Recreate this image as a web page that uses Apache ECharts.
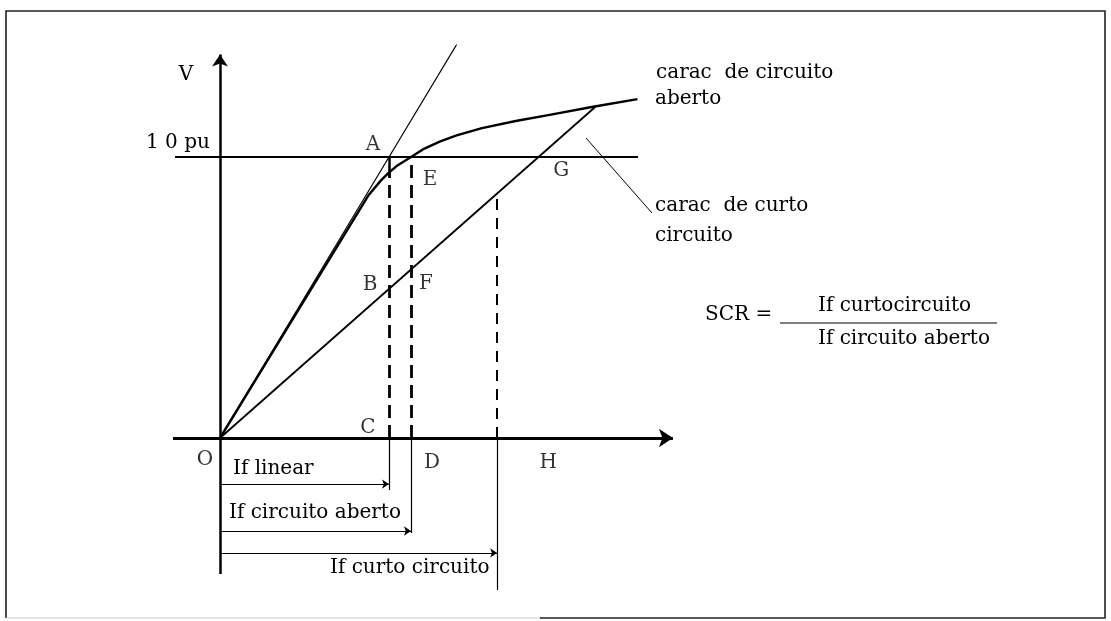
<!DOCTYPE html>
<html>
<head>
<meta charset="utf-8">
<script src="https://cdn.jsdelivr.net/npm/echarts@6/dist/echarts.min.js"></script>
<style>
html, body { margin: 0; padding: 0; background: #fff; }
#main { width: 1111px; height: 621px; }
</style>
</head>
<body>
<div id="main"></div>
<script>
// V em pu, If em unidades de "If linear"
var occIf = [0, 0.88, 0.95, 1.00, 1.05, 1.13, 1.20, 1.30, 1.40, 1.55, 1.75, 1.95, 2.20, 2.47];
var occV = [0, 0.865, 0.915, 0.945, 0.97, 1.00, 1.027, 1.055, 1.077, 1.103, 1.128, 1.15, 1.178, 1.206];
var airGapIf = [0, 1.40];
var airGapV = [0, 1.40];
var sccIf = [0, 2.22];
var sccV = [0, 1.178];

var vRated = 1.0;
var ifLinear = 1.0;
var ifOpen = 1.13;
var ifShort = 1.64;
var vOccAtLinear = 0.945;
var vSccAtShort = 0.871;

var pointNames = ['O', 'A', 'B', 'C', 'D', 'E', 'F', 'G', 'H'];
var pointIf = [0, 1.0, 1.0, 1.0, 1.13, 1.13, 1.13, 1.883, 1.883];
var pointV = [0, 1.0, 0.531, 0, 0, 1.0, 0.6, 1.0, 0];

// ---- layout (pixels) ----
var OX = 220, OY = 438, SX = 169, SY = 281;
var W = 1111, H = 621;
var FONT = '"DejaVu Serif", "Liberation Serif", serif';
var labelOffsets = {
    O: [-15, 22], A: [-16, -12], B: [-19, -4], C: [-21, -10], D: [21, 25],
    E: [19, 23], F: [15, 14], G: [23, 14], H: [10, 25]
};
// extents of the drawing lines, in chart units
var xAxisFrom = -0.278, xAxisTo = 2.68;
var yAxisFrom = -0.484, yAxisTo = 1.365;
var ratedFrom = -0.266, ratedTo = 2.473;
var depthLinear = -0.185, depthOpen = -0.338, depthShort = -0.541;
var rowLinear = -0.164, rowOpen = -0.331, rowShort = -0.409;

function zip(a, b) {
    return a.map(function (v, i) { return [v, b[i]]; });
}

var myChart = echarts.init(document.getElementById('main'));

var plainLines = [
    {coords: [[xAxisFrom, 0], [xAxisTo, 0]], lineStyle: {width: 3}, symbol: ['none', 'arrow'], symbolSize: [0, 14]},
    {coords: [[0, yAxisFrom], [0, yAxisTo]], lineStyle: {width: 2.5}, symbol: ['none', 'arrow'], symbolSize: [0, 12]},
    {coords: [[ratedFrom, vRated], [ratedTo, vRated]], lineStyle: {width: 1.8}},
    {coords: [[ifLinear, vOccAtLinear], [ifLinear, vRated]], lineStyle: {width: 2.5}},
    {coords: [[ifLinear, 0], [ifLinear, vOccAtLinear]], lineStyle: {width: 2.8, type: [13, 7]}},
    {coords: [[ifOpen, 0], [ifOpen, vRated]], lineStyle: {width: 2.8, type: [13, 7]}},
    {coords: [[ifShort, 0], [ifShort, vSccAtShort]], lineStyle: {width: 2, type: [11, 8]}},
    {coords: [[ifLinear, 0], [ifLinear, depthLinear]], lineStyle: {width: 1.2}},
    {coords: [[ifOpen, 0], [ifOpen, depthOpen]], lineStyle: {width: 1.2}},
    {coords: [[ifShort, 0], [ifShort, depthShort]], lineStyle: {width: 1.2}},
    {coords: [[0, rowLinear], [ifLinear, rowLinear]], lineStyle: {width: 1.2}, symbol: ['none', 'arrow'], symbolSize: [0, 7]},
    {coords: [[0, rowOpen], [ifOpen, rowOpen]], lineStyle: {width: 1.2}, symbol: ['none', 'arrow'], symbolSize: [0, 7]},
    {coords: [[0, rowShort], [ifShort, rowShort]], lineStyle: {width: 1.2}, symbol: ['none', 'arrow'], symbolSize: [0, 7]}
];

var pointData = pointNames.map(function (n, i) {
    return {
        name: n,
        value: [pointIf[i], pointV[i]],
        label: {offset: labelOffsets[n]}
    };
});

function txt(text, x, y, align) {
    return {
        type: 'text', x: x, y: y, silent: true,
        style: {
            text: text, fill: '#000', font: '20px ' + FONT,
            align: align || 'left', verticalAlign: 'middle'
        }
    };
}

var option = {
    animation: false,
    backgroundColor: '#fff',
    grid: {left: 0, right: 0, top: 0, bottom: 0},
    xAxis: {
        type: 'value', min: -OX / SX, max: (W - OX) / SX, show: false
    },
    yAxis: {
        type: 'value', min: -(H - OY) / SY, max: OY / SY, show: false
    },
    series: [
        {
            type: 'line', data: zip(occIf, occV), smooth: false,
            symbol: 'none', lineStyle: {color: '#000', width: 2.4, join: 'round'}, silent: true
        },
        {
            type: 'line', data: zip(airGapIf, airGapV), symbol: 'none',
            lineStyle: {color: '#000', width: 1.1}, silent: true
        },
        {
            type: 'line', data: zip(sccIf, sccV), symbol: 'none',
            lineStyle: {color: '#000', width: 1.8}, silent: true
        },
        {
            type: 'lines', coordinateSystem: 'cartesian2d', silent: true,
            lineStyle: {color: '#000', opacity: 1, curveness: 0},
            symbol: 'none',
            data: plainLines
        },
        {
            type: 'scatter', data: pointData, symbolSize: 1, silent: true,
            itemStyle: {color: 'rgba(0,0,0,0)'},
            label: {
                show: true, position: 'inside', formatter: '{b}',
                color: '#000', fontFamily: FONT, fontSize: 20,
                textBorderWidth: 0, align: 'center', verticalAlign: 'middle'
            }
        }
    ],
    graphic: [
        {
            type: 'polyline', silent: true,
            shape: {points: [[540, 618], [1105, 618], [1105, 11], [6, 11], [6, 618]]},
            style: {stroke: '#222', lineWidth: 1.6, fill: null}
        },
        {
            type: 'line', silent: true,
            shape: {x1: 6, y1: 618, x2: 540, y2: 618},
            style: {stroke: '#ccc', lineWidth: 1.2}
        },
        txt('V', 186, 75, 'center'),
        txt('1 0 pu', 146, 143),
        txt('If linear', 233, 469),
        txt('If circuito aberto', 229, 513),
        txt('If curto circuito', 330, 568),
        txt('carac  de circuito', 656, 73),
        txt('aberto', 655, 99),
        txt('carac  de curto', 655, 206),
        txt('circuito', 655, 236),
        {
            type: 'line', silent: true,
            shape: {x1: 586, y1: 138, x2: 652, y2: 213},
            style: {stroke: '#000', lineWidth: 1}
        },
        txt('SCR =', 705, 315),
        {
            type: 'line', silent: true,
            shape: {x1: 780, y1: 323, x2: 997, y2: 323},
            style: {stroke: '#000', lineWidth: 1.2}
        },
        txt('If curtocircuito', 818, 306),
        txt('If circuito aberto', 818, 339)
    ]
};

myChart.setOption(option);
</script>
</body>
</html>
